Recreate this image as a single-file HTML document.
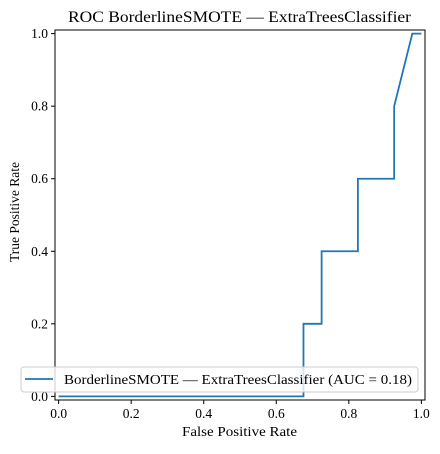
<!DOCTYPE html>
<html><head><meta charset="utf-8"><style>
body{margin:0;background:#fff}
svg text{font-family:"Liberation Serif","DejaVu Serif",serif;fill:#000}
</style></head><body>
<svg width="440" height="449">
<text x="68" y="22" font-size="15.5" textLength="343" lengthAdjust="spacingAndGlyphs">ROC BorderlineSMOTE — ExtraTreesClassifier</text>
<g id="ticks"></g>
<polyline id="curve" fill="none" stroke="#1f77b4" stroke-width="1.8"/>
<rect x="55" y="30" width="370" height="370" fill="none" stroke="#000" stroke-width="1"/>
<text x="182" y="436" font-size="13.5" textLength="115" lengthAdjust="spacingAndGlyphs">False Positive Rate</text>
<text transform="translate(19,212) rotate(-90)" font-size="13.5" text-anchor="middle">True Positive Rate</text>
<g>
<rect x="21" y="367" width="397" height="25" rx="3" fill="#fff" fill-opacity="0.8" stroke="#ccc"/>
<line x1="25" y1="379" x2="53" y2="379" stroke="#1f77b4" stroke-width="1.8"/>
<text x="64" y="384" font-size="13.5" textLength="348" lengthAdjust="spacingAndGlyphs">BorderlineSMOTE — ExtraTreesClassifier (AUC = 0.18)</text>
</g>
</svg>
<script>
const fpr=[0,0.675,0.675,0.725,0.725,0.825,0.825,0.925,0.925,0.975,1.0];
const tpr=[0,0,0.2,0.2,0.4,0.4,0.6,0.6,0.8,1,1];
const tickVals=[0,0.2,0.4,0.6,0.8,1.0];
const tickLabels=["0.0","0.2","0.4","0.6","0.8","1.0"];
const X=v=>55+(v+0.01)/1.02*370;
const Y=v=>400-(v+0.01)/1.02*370;
document.getElementById('curve').setAttribute('points',fpr.map((f,i)=>X(f)+','+Y(tpr[i])).join(' '));
const g=document.getElementById('ticks');
const NS='http://www.w3.org/2000/svg';
tickVals.forEach((v,i)=>{
  let l=document.createElementNS(NS,'line');
  l.setAttribute('x1',X(v));l.setAttribute('x2',X(v));l.setAttribute('y1',400);l.setAttribute('y2',404);l.setAttribute('stroke','#000');
  
  
  g.appendChild(l);
  let t=document.createElementNS(NS,'text');
  t.setAttribute('x',X(v));t.setAttribute('y',418);t.setAttribute('font-size','13.5');t.setAttribute('text-anchor','middle');t.textContent=tickLabels[i];
  
  
  g.appendChild(t);
  let l2=document.createElementNS(NS,'line');
  l2.setAttribute('x1',51);l2.setAttribute('x2',55);l2.setAttribute('y1',Y(v));l2.setAttribute('y2',Y(v));l2.setAttribute('stroke','#000');
  
  
  g.appendChild(l2);
  let t2=document.createElementNS(NS,'text');
  t2.setAttribute('x',48);t2.setAttribute('y',Y(v)+4.5);t2.setAttribute('font-size','13.5');t2.setAttribute('text-anchor','end');t2.textContent=tickLabels[i];
  
  
  g.appendChild(t2);
});
</script>
</body></html>
